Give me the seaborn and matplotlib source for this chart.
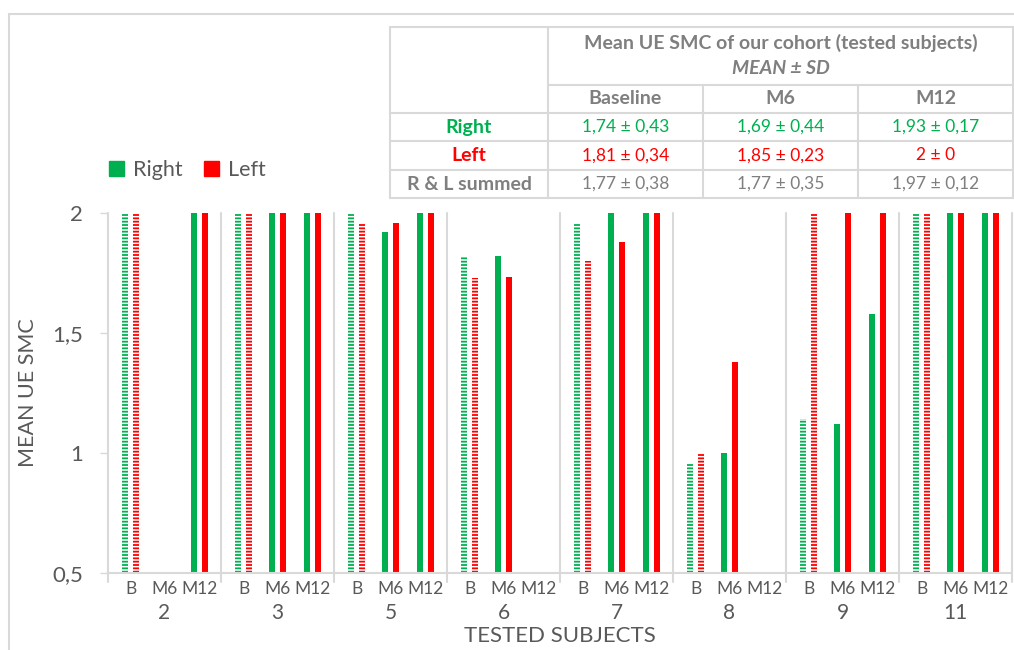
import numpy as np
import pandas as pd
import seaborn as sns
import matplotlib.pyplot as plt
from matplotlib.patches import Patch, Rectangle
from matplotlib.transforms import blended_transform_factory

# ---- data ----
subjects = ["2", "3", "5", "6", "7", "8", "9", "11"]
timepoints = ["B", "M6", "M12"]
nan = np.nan
right_b = [2, 2, 2, 1.815, 1.96, 0.96, 1.14, 2]
left_b = [2, 2, 1.96, 1.73, 1.80, 1.00, 2, 2]
right_m6 = [nan, 2, 1.92, 1.82, 2, 1.00, 1.12, 2]
left_m6 = [nan, 2, 1.96, 1.735, 1.88, 1.38, 2, 2]
right_m12 = [2, 2, 2, nan, 2, nan, 1.58, 2]
left_m12 = [2, 2, 2, nan, 2, nan, 2, 2]

table_title = "Mean UE SMC of our cohort (tested subjects)"
table_subtitle = "MEAN ± SD"
table_cols = ["Baseline", "M6", "M12"]
table_rows = ["Right", "Left", "R & L summed"]
right_stats = ["1,74 ± 0,43", "1,69 ± 0,44", "1,93 ± 0,17"]
left_stats = ["1,81 ± 0,34", "1,85 ± 0,23", "2 ± 0"]
summed_stats = ["1,77 ± 0,38", "1,77 ± 0,35", "1,97 ± 0,12"]

GREEN = "#00B050"
RED = "#FF0000"
GRAY = "#595959"
TGRAY = "#7F7F7F"
LINE = "#D9D9D9"

# long table for seaborn
series = {
    ("B", "Right"): right_b, ("B", "Left"): left_b,
    ("M6", "Right"): right_m6, ("M6", "Left"): left_m6,
    ("M12", "Right"): right_m12, ("M12", "Left"): left_m12,
}
rows = []
for (tp, side), vals in series.items():
    for subj, v in zip(subjects, vals):
        rows.append({"slot": f"{subj}-{tp}", "side": side, "value": v})
df = pd.DataFrame(rows).dropna()
slot_order = [f"{s}-{t}" for s in subjects for t in timepoints]

sns.set_theme(style="white")
plt.rcParams["font.family"] = ["Lato", "DejaVu Sans"]
plt.rcParams["hatch.linewidth"] = 1.3

fig = plt.figure(figsize=(10.14, 6.5), dpi=100)

# outer chart border
fig.patches.append(Rectangle((9 / 1014, -0.01), 1.1, 1 - 14 / 650 + 0.01,
                             transform=fig.transFigure, fill=False,
                             edgecolor=LINE, lw=1.5, zorder=0))

ax = fig.add_axes([108 / 1014, 1 - 573 / 650, 904 / 1014, 360 / 650])
sns.barplot(data=df, x="slot", y="value", hue="side", order=slot_order,
            hue_order=["Right", "Left"], palette=[GREEN, RED], saturation=1,
            width=0.58, gap=0.45, errorbar=None, legend=False, ax=ax,
            linewidth=0)

# Excel spaces the three timepoints a little tighter inside each subject group
shift = [0.10, 0.01, -0.07]
for p in ax.patches:
    cx = p.get_x() + p.get_width() / 2
    k = round(cx) % 3
    p.set_x(p.get_x() + shift[k])
    if k == 0:  # baseline bars get the dashed pattern
        c = p.get_facecolor()
        p.set_facecolor("white")
        p.set_edgecolor(c)
        p.set_hatch("-----")
        p.set_linewidth(0)

ax.set_xlim(-0.5, len(slot_order) - 0.5)
ax.set_ylim(0.5, 2)
ax.set_yticks([0.5, 1, 1.5, 2])
ax.set_yticklabels(["0,5", "1", "1,5", "2"])
ax.set_xticks([i + shift[i % 3] for i in range(len(slot_order))])
ax.set_xticklabels(timepoints * len(subjects))
ax.tick_params(axis="x", length=0, pad=6, labelsize=12.5, labelcolor=GRAY)
ax.tick_params(axis="y", length=6, width=1, color=LINE, pad=12,
               labelsize=16, labelcolor=GRAY, left=True)
for s in ["top", "right", "left"]:
    ax.spines[s].set_visible(False)
ax.spines["bottom"].set_color(LINE)
ax.spines["bottom"].set_linewidth(1.5)
ax.set_xlabel("TESTED SUBJECTS", fontsize=16, color=GRAY, va="center")
ax.xaxis.set_label_coords(0.5, -63 / 360)
ax.set_ylabel("MEAN UE SMC", fontsize=15.5, color=GRAY)
ax.yaxis.set_label_coords(-70 / 904, 0.5)

# group separators and subject labels
trans = blended_transform_factory(ax.transData, ax.transAxes)
for i, subj in enumerate(subjects):
    ax.plot([3 * i - 0.5, 3 * i - 0.5], [-0.025, 1], transform=trans,
            color=LINE, lw=1.5, clip_on=False)
    ax.text(3 * i + 1, -40 / 360, subj, transform=trans, ha="center",
            va="center", fontsize=15, color=GRAY)
ax.plot([len(slot_order) - 0.5] * 2, [-0.025, 1], transform=trans,
        color=LINE, lw=1.5, clip_on=False)

# legend
handles = [Patch(color=GREEN, label="Right"), Patch(color=RED, label="Left")]
fig.legend(handles=handles, loc="center left",
           bbox_to_anchor=(90 / 1014, 1 - 170 / 650), ncol=2, frameon=False,
           fontsize=15.5, labelcolor=GRAY, handlelength=0.7, handleheight=0.7,
           handletextpad=0.4, columnspacing=1.0)

# summary table
tx = [390, 548, 703, 858, 1013]
ty = [27, 85, 113, 141, 170, 198]
axt = fig.add_axes([390 / 1014, 1 - 198 / 650, 623 / 1014, 171 / 650])
axt.set_xlim(tx[0], tx[-1])
axt.set_ylim(ty[-1], ty[0])
axt.axis("off")
lk = dict(color=LINE, lw=1.5, clip_on=False)
axt.plot([tx[0], tx[-1]], [ty[0], ty[0]], **lk)
axt.plot([tx[1], tx[-1]], [ty[1], ty[1]], **lk)
for y in ty[2:]:
    axt.plot([tx[0], tx[-1]], [y, y], **lk)
for x in [tx[0], tx[1], tx[-1]]:
    axt.plot([x, x], [ty[0], ty[-1]], **lk)
for x in tx[2:4]:
    axt.plot([x, x], [ty[1], ty[-1]], **lk)

BOLD = 14
REG = 12.5
mid = (tx[1] + tx[-1]) / 2
axt.text(mid, 43, table_title, ha="center", va="center", fontsize=BOLD,
         fontweight="bold", color=TGRAY)
axt.text(mid, 69, table_subtitle, ha="center", va="center", fontsize=BOLD,
         fontweight="bold", fontstyle="italic", color=TGRAY)
for j, c in enumerate(table_cols):
    axt.text((tx[j + 1] + tx[j + 2]) / 2, (ty[1] + ty[2]) / 2, c, ha="center",
             va="center", fontsize=BOLD, fontweight="bold", color=TGRAY)
row_colors = [GREEN, RED, TGRAY]
for i, (name, stats) in enumerate(zip(table_rows, [right_stats, left_stats, summed_stats])):
    yc = (ty[i + 2] + ty[i + 3]) / 2
    axt.text((tx[0] + tx[1]) / 2, yc, name, ha="center", va="center",
             fontsize=BOLD, fontweight="bold", color=row_colors[i])
    for j, s in enumerate(stats):
        axt.text((tx[j + 1] + tx[j + 2]) / 2, yc, s, ha="center", va="center",
                 fontsize=REG, color=row_colors[i])

fig.savefig("out.png", dpi=100)
